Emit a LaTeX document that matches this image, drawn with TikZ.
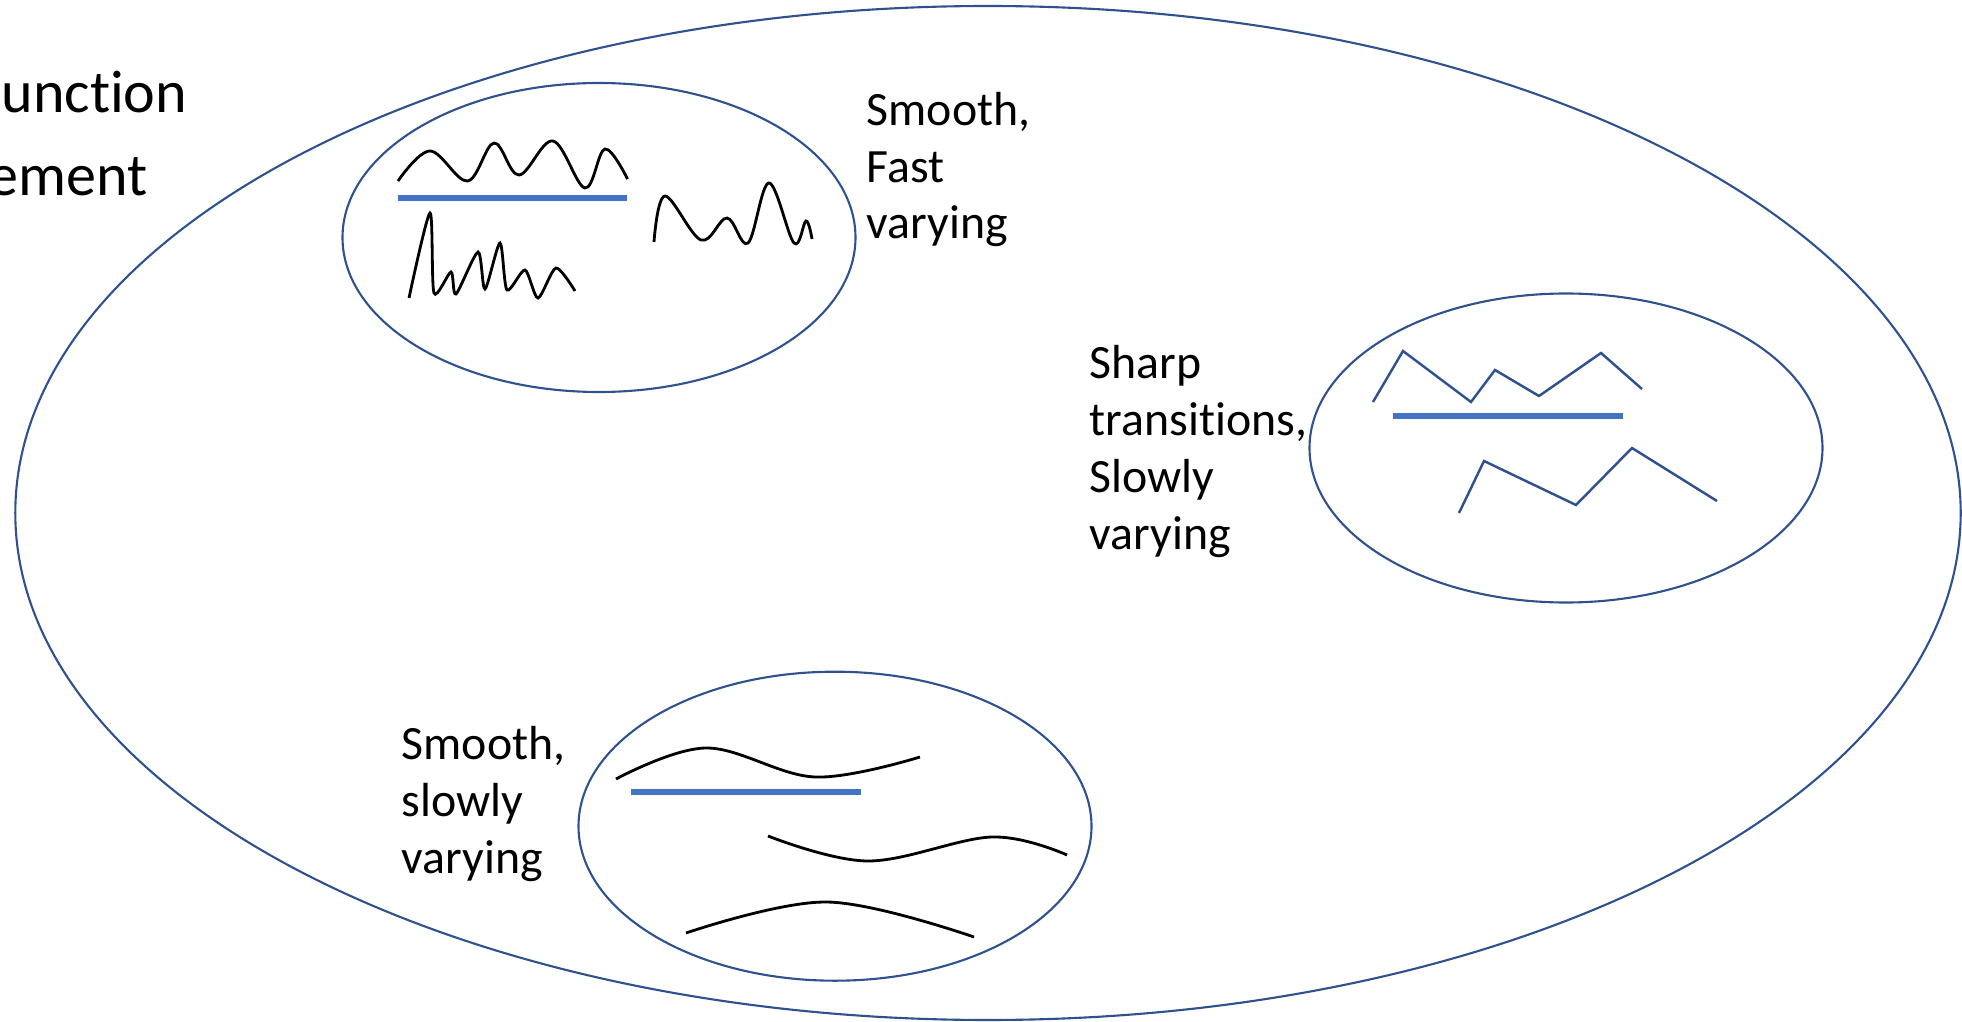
\documentclass[tikz,border=0pt]{standalone}
\usepackage{fontspec}
\setmainfont{Carlito}[Ligatures=NoCommon]
\usepackage{xcolor}
\usetikzlibrary{calc}

\definecolor{ringblue}{HTML}{2F528F}
\definecolor{barblue}{HTML}{4472C4}

\begin{document}
\begin{tikzpicture}[
    ring/.style={draw=ringblue, line width=0.6pt},
    wave/.style={black, line width=0.8pt, smooth, tension=0.6},
    zig/.style={draw=ringblue, line width=0.7pt},
    bar/.style={draw=barblue, line width=1.6pt},
    label/.style={anchor=base west, inner sep=0pt, align=left,
      font=\fontsize{13.6}{16.2}\selectfont},
    cut/.style={anchor=base east, inner sep=0pt,
      font=\fontsize{17.1}{23.3}\selectfont}
  ]

    \useasboundingbox (0,0) rectangle (19.62,10.21);

    % Centres
    \coordinate (O)  at (9.88,5.08);
    \coordinate (E1) at (5.99,7.835);
    \coordinate (E2) at (15.66,5.73);
    \coordinate (E3) at (8.35,1.948);

    % Sets
    \draw[ring] (O)  ellipse (9.727 and 5.07);
    \draw[ring] (E1) ellipse (2.565 and 1.545);
    \draw[ring] (E2) ellipse (2.565 and 1.545);
    \draw[ring] (E3) ellipse (2.565 and 1.545);

    % Cut-off title
    \node[cut] (t1) at (1.88,9.08) {unction};
    \node[cut] (t2) at (1.48,8.26) {ement};

    % --- Smooth, fast varying ---
    \draw[wave] plot coordinates {(3.98,8.40) (4.30,8.70) (4.675,8.40)
      (4.94,8.78) (5.19,8.46) (5.53,8.80) (5.85,8.33) (6.05,8.72) (6.275,8.42)};
    \draw[bar] ($(E1)+(-2.01,0.395)$) -- ($(E1)+(0.28,0.395)$);
    \draw[wave, tension=0.45] plot coordinates {(4.09,7.23) (4.30,8.08)
      (4.34,7.28) (4.51,7.49) (4.56,7.27) (4.78,7.69) (4.85,7.32) (5.00,7.78)
      (5.07,7.31) (5.25,7.51) (5.38,7.23) (5.56,7.53) (5.75,7.30)};
    \draw[wave] plot coordinates {(6.54,7.79) (6.65,8.25) (7.01,7.81)
      (7.27,8.03) (7.48,7.78) (7.69,8.38) (7.94,7.78) (8.06,8.00) (8.12,7.82)};
    % (base = last line)
    \node[label] (fast) at (8.66,7.82) {Smooth,\\Fast\\varying};

    % --- Sharp transitions ---
    \draw[zig] (13.73,6.19) -- (14.03,6.70) -- (14.71,6.19) -- (14.95,6.51)
      -- (15.39,6.25) -- (16.01,6.68) -- (16.42,6.32);
    \draw[bar] ($(E2)+(-1.73,0.317)$) -- ($(E2)+(0.57,0.317)$);
    \draw[zig] (14.59,5.08) -- (14.84,5.60) -- (15.76,5.16) -- (16.32,5.73)
      -- (17.17,5.20);
    \node[label] (sharp) at (10.89,4.72) {Sharp\\transitions,\\Slowly\\varying};

    % --- Smooth, slowly varying ---
    \draw[wave] plot coordinates {(6.16,2.42) (7.06,2.73) (8.15,2.44) (9.20,2.64)};
    \draw[bar] ($(E3)+(-2.04,0.339)$) -- ($(E3)+(0.26,0.339)$);
    \draw[wave] plot coordinates {(7.68,1.85) (8.68,1.60) (9.92,1.84) (10.67,1.66)};
    \draw[wave] plot coordinates {(6.86,0.88) (8.27,1.19) (9.74,0.84)};
    \node[label] (slow) at (4.01,1.475) {Smooth,\\slowly\\varying};

\end{tikzpicture}
\end{document}
